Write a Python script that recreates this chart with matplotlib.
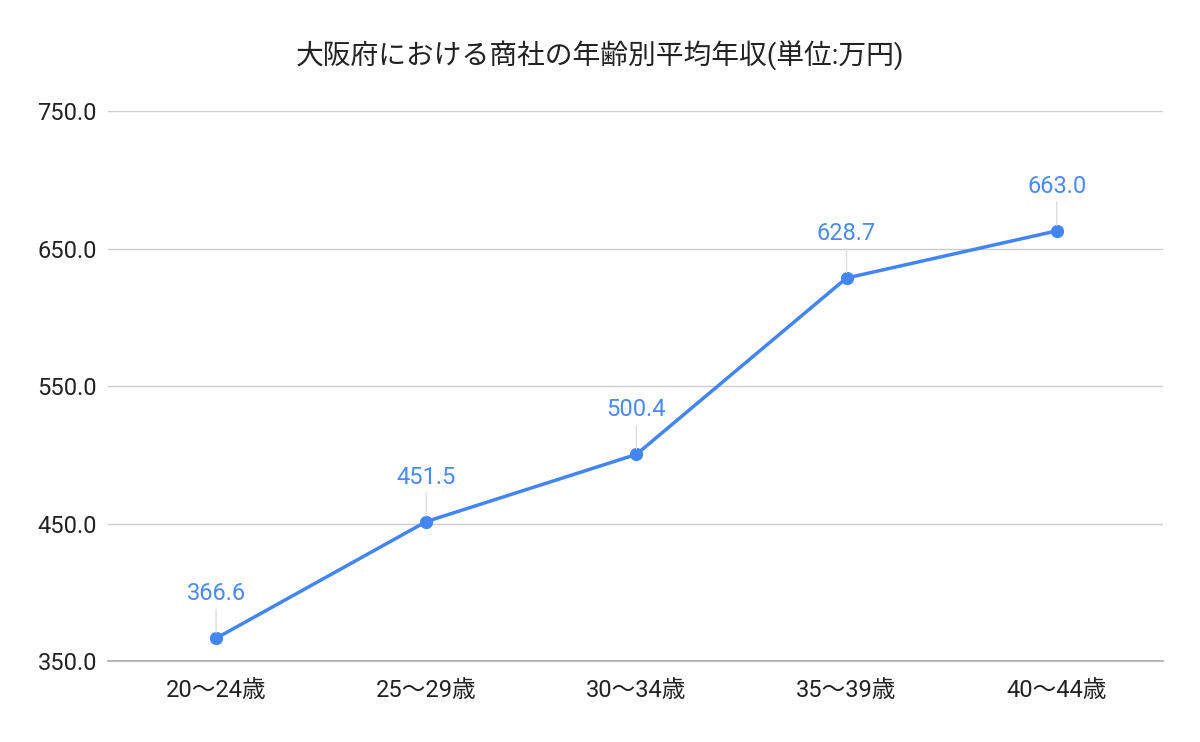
import matplotlib
matplotlib.use("Agg")
from matplotlib import pyplot as plt

plt.rcParams['font.family'] = ['Roboto', 'Noto Sans CJK JP', 'DejaVu Sans']

age_groups = ["20～24歳", "25～29歳", "30～34歳", "35～39歳", "40～44歳"]
income = [366.6, 451.5, 500.4, 628.7, 663.0]
y_ticks = [350, 450, 550, 650, 750]

blue = "#4285F4"

fig = plt.figure(figsize=(12, 7.42), dpi=100)
ax = fig.add_axes([0.09, 0.109, 0.879, 0.741])

x = list(range(len(age_groups)))
ax.plot(x, income, color=blue, linewidth=2.5, marker="o", markersize=8.5, zorder=3)

for xi, v in zip(x, income):
    ax.annotate(f"{v:.1f}", xy=(xi, v), xytext=(0, 32), textcoords="offset points",
                ha="center", va="center", fontsize=17, color="#4a8af4",
                arrowprops=dict(arrowstyle="-", color="#dddddd", lw=1, shrinkA=1, shrinkB=4))

ax.set_xlim(-0.514, 4.505)
ax.set_ylim(350, 750)
ax.set_yticks(y_ticks)
ax.set_yticklabels([f"{t:.1f}" for t in y_ticks])
ax.set_xticks(x)
ax.set_xticklabels(age_groups)
ax.tick_params(axis="both", length=0, labelsize=17, colors="#222222")
ax.tick_params(axis="y", pad=8)
ax.tick_params(axis="x", pad=13)

ax.grid(axis="y", color="#cccccc", linewidth=1)
ax.set_axisbelow(True)
for s in ["top", "right", "left"]:
    ax.spines[s].set_visible(False)
ax.spines["bottom"].set_color("#aaaaaa")
ax.spines["bottom"].set_linewidth(1.2)

fig.suptitle("大阪府における商社の年齢別平均年収(単位:万円)", x=0.5, y=0.945,
             fontsize=20, color="#222222")

fig.savefig("out.png", dpi=100, facecolor="white")
